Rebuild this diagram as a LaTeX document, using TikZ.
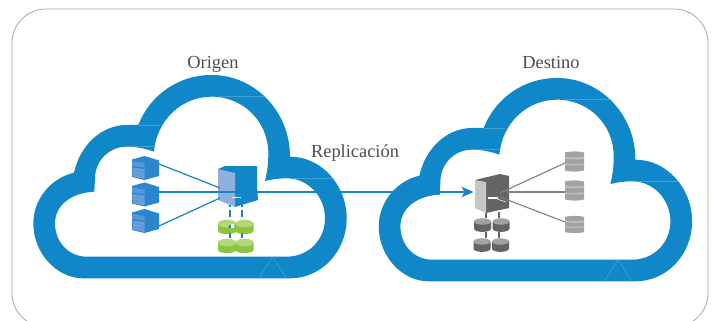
\documentclass[tikz,border=0pt]{standalone}
\usepackage{fontspec}
\setmainfont{Liberation Serif}
\usetikzlibrary{arrows.meta}
\definecolor{cloudblue}{HTML}{0F87C9}
\definecolor{linkblue}{HTML}{1484C4}
\definecolor{seam}{HTML}{5FAEDC}
\definecolor{srvblue}{HTML}{2A86CE}
\definecolor{srvpale}{HTML}{6C9FD8}
\definecolor{srvleft}{HTML}{8FB0DC}
\definecolor{diskgreen}{HTML}{8CC63F}
\definecolor{diskgreentop}{HTML}{B4D67C}
\definecolor{diskdark}{HTML}{646464}
\definecolor{disktop}{HTML}{A2A2A2}
\definecolor{labelgray}{HTML}{4D4D4D}
\definecolor{graylink}{HTML}{808080}
\tikzset{
  lbl/.style={font=\fontsize{18.4pt}{20pt}\selectfont,text=labelgray,inner sep=0pt,anchor=base},
  bluelink/.style={draw=linkblue,line width=1.2pt},
  graystroke/.style={draw=graylink,line width=1.1pt},
  bluedash/.style={draw=linkblue,line width=1.7pt,dash pattern=on 7pt off 3pt},
  graypost/.style={draw=diskdark,line width=1.4pt},
  seamline/.style={draw=seam,line width=.35pt},
  cloudband/.pic={
    \begin{scope}[x=.33333pt,y=-.33333pt]
    \fill[cloudblue,even odd rule]
      (250,835) -- (870,835) .. controls (964,835) and (1040,755) .. (1040,655)
      .. controls (1040,555) and (964,470) .. (870,470)
      .. controls (870,335) and (765,225) .. (635,225)
      .. controls (535,225) and (450,285) .. (415,375)
      -- (380,375) .. controls (305,375) and (240,435) .. (222,518)
      .. controls (150,535) and (100,600) .. (100,670)
      .. controls (100,760) and (170,835) .. (250,835) -- cycle
      (260,770) -- (860,770) .. controls (925,770) and (975,720) .. (975,655)
      .. controls (975,590) and (925,535) .. (860,535)
      .. controls (835,535) and (815,538) .. (795,543)
      .. controls (802,515) and (805,490) .. (805,460)
      .. controls (805,365) and (730,290) .. (635,290)
      .. controls (545,290) and (470,360) .. (462,455)
      .. controls (435,445) and (405,440) .. (380,440)
      .. controls (325,440) and (285,485) .. (285,535)
      -- (283,575) .. controls (215,578) and (165,615) .. (165,670)
      .. controls (165,725) and (205,770) .. (260,770) -- cycle;
    \draw[seamline] (660,290) -- (795,290) (415,377) -- (480,377)
      (380,440) -- (462,440) (880,535) -- (1000,535)
      (778,833) -- (818,770) -- (858,833);
    \end{scope}
  },
  bluesrv/.pic={
    \fill[srvblue] (-13.5,-8.5) -- (-1,-12) -- (13.5,-7.5) -- (13.5,8) -- (-1,12) -- (-13.5,9) -- cycle;
    \fill[srvpale!70!srvblue] (-13.5,-7) -- (-1,-5) -- (-1,-.5) -- (-13.5,-2) -- cycle;
    \fill[srvpale] (-13,-.5) -- (-1,1) -- (-1,11) -- (-13,8.5) -- cycle;
    \draw[srvblue!85!white,line width=.35pt] (-13,2.5) -- (-1,4) (-13,5.5) -- (-1,7) (-9,0) -- (-9,9.5) (-5,.5) -- (-5,10);
  },
  graysrv/.pic={
    \fill[disktop] (-9.5,-9) .. controls (-4,-10.5) and (4,-10.5) .. (9.5,-9) -- (9.5,9) .. controls (4,10.5) and (-4,10.5) .. (-9.5,9) -- cycle;
    \fill[disktop!70!white] (-9.5,-4.5) -- (0,-4) -- (9.5,-4.5) -- (9.5,-2.5) -- (0,-2) -- (-9.5,-2.5) -- cycle;
    \fill[disktop!70!white] (-9.5,2) -- (0,2.5) -- (9.5,2) -- (9.5,3.5) -- (0,4) -- (-9.5,3.5) -- cycle;
  },
  greendisk/.pic={
    \fill[diskgreen] (-9,-4) -- (-9,4) .. controls (-9,8) and (9,8) .. (9,4) -- (9,-4) -- cycle;
    \fill[diskgreentop] (0,-3.5) ellipse [x radius=9,y radius=3.8];
  },
  darkdisk/.pic={
    \fill[diskdark] (-8.5,-3.5) -- (-8.5,3.5) .. controls (-8.5,8) and (8.5,8) .. (8.5,3.5) -- (8.5,-3.5) -- cycle;
    \fill[disktop] (0,-3.5) ellipse [x radius=8.5,y radius=3.2];
  }
}
\begin{document}
\begin{tikzpicture}[x=1pt,y=-1pt]
\useasboundingbox (0,0) rectangle (712,321);
\fill[white] (0,0) rectangle (712,321);
\draw[color=gray!75,line width=.7pt,rounded corners=34pt] (12,9) rectangle (708,327);

% clouds
\pic at (0,0) {cloudband};
\pic at (345.4,3) {cloudband};

% labels
\node[lbl] (origen) at (213,68) {Origen};
\node[lbl] (destino) at (551,68) {Destino};
\node[lbl] (replica) at (355,157) {Replicación};

% connector ends
\coordinate (s1) at (159,164);
\coordinate (s2) at (157,192);
\coordinate (s3) at (159,226);
\coordinate (m1) at (220,188);
\coordinate (m3) at (220,198);
\coordinate (t) at (473.5,192);
\coordinate (g1) at (565,163);
\coordinate (g2) at (565,192);
\coordinate (g3) at (565,222);
\coordinate (d1) at (500,193);
\coordinate (d2) at (507,192);
\coordinate (d3) at (500,197);
\coordinate (ga) at (230,200);
\coordinate (gb) at (230,240);
\coordinate (gc) at (242,200);
\coordinate (gd) at (242,240);

% origin: dashed links behind disks
\draw[bluedash] (ga) -- (gb);
\draw[bluedash] (gc) -- (gd);
\pic at (227,227) {greendisk};
\pic at (244.5,227) {greendisk};
\pic at (227,246) {greendisk};
\pic at (244.5,246) {greendisk};
\draw[linkblue,line width=1.6pt] (230,233) -- (230,238) (242,233) -- (242,238) (230,224.5) -- (230,228);
\fill[white] (231,224) rectangle (234,228);

% origin servers
\pic at (145.5,168) {bluesrv};
\pic at (145.5,194.5) {bluesrv};
\pic at (145.5,221) {bluesrv};

% origin main server
\fill[cloudblue] (218,169) -- (225,166) -- (257,166) -- (257,186) -- (258,200) -- (235,207) -- (222,190) -- cycle;
\fill[srvleft] (218,169) -- (235,173) -- (235,207) -- (218,200) -- cycle;
\draw[bluelink] (s1) -- (m1);
\draw[bluelink] (s3) -- (m3);
\draw[bluelink,-{Stealth[length=12pt,width=10.5pt,inset=3pt]}] (s2) -- (t);
\fill[white] (232,196.5) rectangle (241,198);

% destination main server
\fill[diskdark] (475,180) -- (500,174) -- (509,176) -- (509,208) -- (486,213) -- cycle;
\fill[gray!45] (475,180) -- (486,182) -- (486,213) -- (475,208) -- cycle;

% destination links
\draw[graystroke] (d1) -- (g1);
\draw[graystroke,line width=1.5pt] (d2) -- (g2);
\draw[graystroke] (d3) -- (g3);
\fill[white] (488,196.5) rectangle (498,198.5);
\draw[white,line width=.5pt] (497,199) -- (506,202);

% destination disks
\draw[graypost] (486,213) -- (486,218) (499,212) -- (499,218) (486,232) -- (486,238) (499,232) -- (499,238);
\pic at (482.5,225) {darkdisk};
\pic at (501,225) {darkdisk};
\pic at (482,245) {darkdisk};
\pic at (500.5,245) {darkdisk};

% destination servers
\pic at (574.5,161.5) {graysrv};
\pic at (574.5,190.5) {graysrv};
\pic[yscale=.85] at (574.5,224.5) {graysrv};
\end{tikzpicture}
\end{document}
